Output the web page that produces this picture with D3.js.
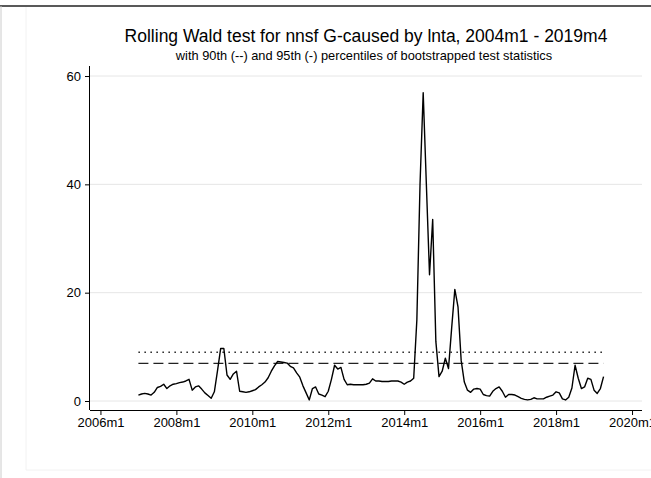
<!DOCTYPE html>
<html><head><meta charset="utf-8">
<script src="https://cdn.jsdelivr.net/npm/d3@7"></script>
<style>
body{margin:0;background:#fff;}
svg{display:block;font-family:"Liberation Sans",Arial,Helvetica,sans-serif;}
</style></head>
<body><svg id="c" width="651" height="478"></svg>
<script>
// ---- data ----
const titleText = "Rolling Wald test for nnsf G-caused by lnta, 2004m1 - 2019m4";
const subtitleText = "with 90th (--) and 95th (-) percentiles of bootstrapped test statistics";
const startYear = 2007, startMonth = 1;   // first rolling-window end point
const axisStartYear = 2006;               // month index 0 = 2006m1
const wald = [
 1.1,1.3,1.4,1.3,1.1,1.6,2.5,2.7,3.1,2.3,
 2.8,3.1,3.2,3.4,3.5,3.7,4.0,2.0,2.6,2.8,
 2.2,1.5,1.0,0.5,1.7,5.6,9.7,9.7,4.8,4.0,
 5.0,5.5,1.8,1.7,1.6,1.7,1.9,2.1,2.6,3.0,
 3.5,4.3,5.5,6.5,7.3,7.2,7.1,7.0,6.4,6.1,
 5.2,4.4,2.8,1.5,0.2,2.3,2.6,1.3,1.1,0.8,
 1.8,4.0,6.6,5.9,6.2,4.0,3.0,3.1,3.0,3.0,
 3.0,3.0,3.1,3.3,4.1,3.7,3.7,3.6,3.6,3.6,
 3.7,3.7,3.7,3.5,3.1,3.5,3.7,4.2,15,40,
 56.9,40,23.3,33.5,11,4.5,5.5,7.9,6.0,13.5,
 20.6,17.4,7.5,3.5,2.0,1.6,2.2,2.3,2.2,1.2,
 1.0,0.9,1.8,2.3,2.6,1.8,0.7,1.2,1.2,1.1,
 0.8,0.5,0.3,0.2,0.3,0.6,0.4,0.4,0.4,0.7,
 0.9,1.1,1.7,1.5,0.4,0.2,0.7,2.4,6.6,4.2,
 2.3,2.6,4.2,4.0,2.0,1.4,2.3,4.5
];
const pct90 = 6.95;   // dashed
const pct95 = 9.0;    // dotted
const xTickLabels = ["2006m1","2008m1","2010m1","2012m1","2014m1","2016m1","2018m1","2020m1"];
const yTicks = [0,20,40,60];

// ---- layout ----
const svg = d3.select("#c");
const L = 90, R = 642, T = 66, B = 410;
const firstIdx = (startYear - axisStartYear) * 12 + (startMonth - 1);
const series = wald.map((v,i)=>({m:firstIdx+i, v}));
const lastIdx = firstIdx + wald.length - 1;
const xTickIdx = xTickLabels.map(s=>{const [y,m]=s.split("m").map(Number);return (y-axisStartYear)*12+m-1;});

const x = d3.scaleLinear().domain([-3.3, 171.15]).range([L, R]);
const y = d3.scaleLinear().domain([-1.66, 61.85]).range([B, T]);

// frame
svg.append("rect").attr("x",0).attr("y",0).attr("width",651).attr("height",478).attr("fill","#fff");
svg.append("line").attr("x1",0).attr("x2",651).attr("y1",6).attr("y2",6).attr("stroke","#222").attr("stroke-width",1.5);
svg.append("line").attr("x1",1).attr("x2",1).attr("y1",6).attr("y2",478).attr("stroke","#ccc").attr("stroke-width",1);
svg.append("line").attr("x1",26).attr("x2",26).attr("y1",7).attr("y2",470).attr("stroke","#f2f2f2").attr("stroke-width",1);
svg.append("line").attr("x1",26).attr("x2",651).attr("y1",470).attr("y2",470).attr("stroke","#f2f2f2").attr("stroke-width",1);

// titles
svg.append("text").attr("x",(L+R)/2).attr("y",42).attr("text-anchor","middle")
  .attr("font-size",17.5).attr("fill","#000").text(titleText);
svg.append("text").attr("x",(L+R)/2 - 2).attr("y",60).attr("text-anchor","middle")
  .attr("font-size",12.8).attr("fill","#000").text(subtitleText);

// gridlines
svg.append("g").selectAll("line").data(yTicks).join("line")
  .attr("x1",L).attr("x2",R).attr("y1",d=>y(d)).attr("y2",d=>y(d))
  .attr("stroke","#e6e6e6").attr("stroke-width",1);

// axes
const yAxis = d3.axisLeft(y).tickValues(yTicks).tickSize(5).tickPadding(4).tickFormat(d3.format("d"));
const gy = svg.append("g").attr("transform",`translate(${L},0)`).call(yAxis);
gy.select(".domain").attr("d",`M-0.5,${T}V${B}`).attr("stroke","#000");
gy.selectAll(".tick line").attr("stroke","#000");
gy.selectAll(".tick text").attr("font-size",13).attr("fill","#000").attr("font-family","Liberation Sans, Arial, sans-serif");

const xAxis = d3.axisBottom(x).tickValues(xTickIdx).tickSize(5).tickPadding(3)
  .tickFormat((d,i)=>xTickLabels[i]);
const gx = svg.append("g").attr("transform",`translate(0,${B})`).call(xAxis);
gx.select(".domain").attr("d",`M${L},0.5H${R}`).attr("stroke","#000");
gx.selectAll(".tick line").attr("stroke","#000");
gx.selectAll(".tick text").attr("font-size",13).attr("fill","#000").attr("font-family","Liberation Sans, Arial, sans-serif");

// percentile lines
svg.append("line").attr("x1",x(firstIdx)).attr("x2",x(lastIdx))
  .attr("y1",y(pct95)).attr("y2",y(pct95))
  .attr("stroke","#222").attr("stroke-width",1.3).attr("stroke-dasharray","1.5,4.5");
svg.append("line").attr("x1",x(firstIdx)).attr("x2",x(lastIdx))
  .attr("y1",y(pct90)).attr("y2",y(pct90))
  .attr("stroke","#222").attr("stroke-width",1.3).attr("stroke-dasharray","10,5");

// main series
const line = d3.line().x(d=>x(d.m)).y(d=>y(d.v));
svg.append("path").datum(series).attr("d",line)
  .attr("fill","none").attr("stroke","#000").attr("stroke-width",1.4).attr("stroke-linejoin","round");
</script></body></html>
